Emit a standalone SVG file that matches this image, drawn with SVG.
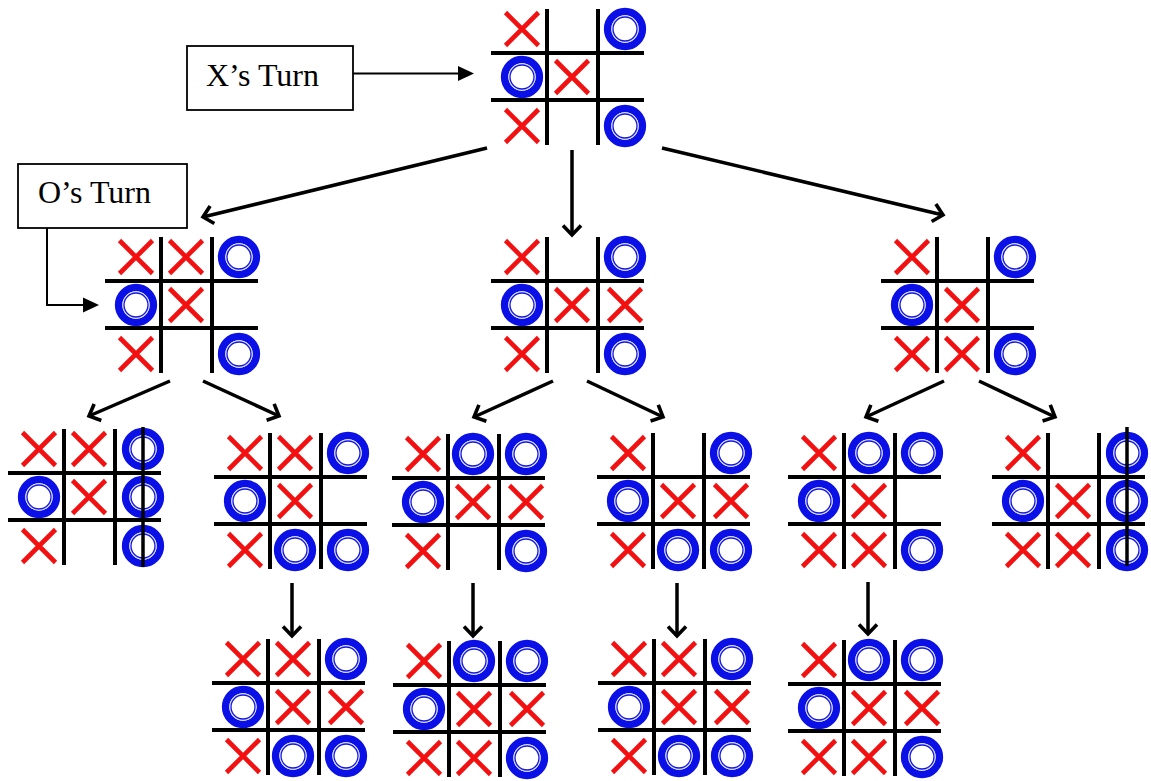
<svg xmlns="http://www.w3.org/2000/svg" xmlns:xlink="http://www.w3.org/1999/xlink" width="1151" height="781" viewBox="0 0 1151 781">
<style>
.gl{stroke:#000;stroke-width:4;fill:none}
.xm{stroke:#f21010;stroke-width:4.6;fill:none}
.ob{fill:#fff;stroke:#0a10e6;stroke-width:7.5}
.oi{fill:none;stroke:#d8dcff;stroke-width:1.1}
.ot{fill:none;stroke:#1418d8;stroke-width:1.3}
.win{stroke:#000;stroke-width:3.5}
.arr{stroke:#000;stroke-width:3.5;fill:none;marker-end:url(#chev)}
.thin{stroke:#000;stroke-width:2;fill:none;marker-end:url(#tri)}
.box{fill:#fff;stroke:#000;stroke-width:1.8}
.lbl{font-family:"Liberation Serif","Times New Roman",serif;font-size:32px;fill:#000}
</style>
<defs>
<marker id="chev" viewBox="-12 -10 14 20" refX="0" refY="0" markerWidth="14" markerHeight="20" markerUnits="userSpaceOnUse" orient="auto" overflow="visible">
<path d="M-9.5,-9 L0,0 L-9.5,9" fill="none" stroke="#000" stroke-width="3.6" stroke-linejoin="miter"/>
</marker>
<marker id="tri" viewBox="-16 -8 20 16" refX="-4" refY="0" markerWidth="20" markerHeight="16" markerUnits="userSpaceOnUse" orient="auto" overflow="visible">
<path d="M-16,-7.5 L0,0 L-16,7.5 Z" fill="#000"/>
</marker>
<g id="grid">
<line class="gl" x1="0" y1="-44" x2="0" y2="92"/>
<line class="gl" x1="51" y1="-44" x2="51" y2="92"/>
<line class="gl" x1="-56" y1="0" x2="97" y2="0"/>
<line class="gl" x1="-56" y1="47" x2="97" y2="47"/>
</g>
<g id="x"><path class="xm" d="M-16.5,-16.5 L16.5,16.5 M16.5,-16.5 L-16.5,16.5"/></g>
<g id="o"><circle class="ob" r="17.4"/><circle class="oi" r="13.1"/><circle class="ot" r="12"/></g>
</defs>

<g id="connectors">
<path class="thin" d="M353,73.5 H470"/>
<path class="thin" d="M47,228 V305 H95"/>
<line class="arr" x1="487" y1="148" x2="203" y2="217"/>
<line class="arr" x1="572" y1="150" x2="572" y2="235"/>
<line class="arr" x1="662" y1="148" x2="943" y2="215"/>
<line class="arr" x1="170" y1="381" x2="89" y2="416"/>
<line class="arr" x1="203" y1="381" x2="279" y2="416"/>
<line class="arr" x1="553" y1="381" x2="474" y2="417"/>
<line class="arr" x1="587" y1="381" x2="663" y2="417"/>
<line class="arr" x1="944" y1="381" x2="866" y2="417"/>
<line class="arr" x1="979" y1="381" x2="1055" y2="417"/>
<line class="arr" x1="292" y1="583" x2="292" y2="636"/>
<line class="arr" x1="473" y1="583" x2="473" y2="636"/>
<line class="arr" x1="677" y1="583" x2="677" y2="636"/>
<line class="arr" x1="868" y1="582" x2="868" y2="634"/>
</g>

<g id="label-x">
<rect class="box" x="187" y="46" width="166" height="64"/>
<text class="lbl" x="206" y="86">X’s Turn</text>
</g>
<g id="label-o">
<rect class="box" x="18" y="164" width="169" height="64"/>
<text class="lbl" x="38" y="203">O’s Turn</text>
</g>

<g id="board-root" transform="translate(547,53)">
<use href="#grid"/>
<use href="#x" x="-25" y="-24"/><use href="#o" x="78" y="-24"/>
<use href="#o" x="-25" y="24"/><use href="#x" x="25" y="24"/>
<use href="#x" x="-25" y="73"/><use href="#o" x="78" y="73"/>
</g>

<g id="board-L" transform="translate(161,281)">
<use href="#grid"/>
<use href="#x" x="-25" y="-24"/><use href="#x" x="25" y="-24"/><use href="#o" x="78" y="-24"/>
<use href="#o" x="-25" y="24"/><use href="#x" x="25" y="24"/>
<use href="#x" x="-25" y="73"/><use href="#o" x="78" y="73"/>
</g>

<g id="board-M" transform="translate(547,281)">
<use href="#grid"/>
<use href="#x" x="-25" y="-24"/><use href="#o" x="78" y="-24"/>
<use href="#o" x="-25" y="24"/><use href="#x" x="25" y="24"/><use href="#x" x="78" y="24"/>
<use href="#x" x="-25" y="73"/><use href="#o" x="78" y="73"/>
</g>

<g id="board-R" transform="translate(937,281)">
<use href="#grid"/>
<use href="#x" x="-25" y="-24"/><use href="#o" x="78" y="-24"/>
<use href="#o" x="-25" y="24"/><use href="#x" x="25" y="24"/>
<use href="#x" x="-25" y="73"/><use href="#x" x="25" y="73"/><use href="#o" x="78" y="73"/>
</g>

<g id="board-B1" transform="translate(64,473)">
<use href="#grid"/>
<use href="#x" x="-25" y="-24"/><use href="#x" x="25" y="-24"/><use href="#o" x="79" y="-24"/>
<use href="#o" x="-25" y="24"/><use href="#x" x="25" y="24"/><use href="#o" x="79" y="24"/>
<use href="#x" x="-25" y="73"/><use href="#o" x="79" y="73"/>
<line class="win" x1="79" y1="-46" x2="79" y2="94"/>
</g>

<g id="board-B2" transform="translate(270,477)">
<use href="#grid"/>
<use href="#x" x="-25" y="-24"/><use href="#x" x="25" y="-24"/><use href="#o" x="78" y="-24"/>
<use href="#o" x="-25" y="24"/><use href="#x" x="25" y="24"/>
<use href="#x" x="-25" y="73"/><use href="#o" x="25" y="73"/><use href="#o" x="78" y="73"/>
</g>

<g id="board-B3" transform="translate(448,478)">
<use href="#grid"/>
<use href="#x" x="-25" y="-24"/><use href="#o" x="25" y="-24"/><use href="#o" x="78" y="-24"/>
<use href="#o" x="-25" y="24"/><use href="#x" x="25" y="24"/><use href="#x" x="78" y="24"/>
<use href="#x" x="-25" y="73"/><use href="#o" x="78" y="73"/>
</g>

<g id="board-B4" transform="translate(653,477)">
<use href="#grid"/>
<use href="#x" x="-25" y="-24"/><use href="#o" x="78" y="-24"/>
<use href="#o" x="-25" y="24"/><use href="#x" x="25" y="24"/><use href="#x" x="78" y="24"/>
<use href="#x" x="-25" y="73"/><use href="#o" x="25" y="73"/><use href="#o" x="78" y="73"/>
</g>

<g id="board-B5" transform="translate(844,477)">
<use href="#grid"/>
<use href="#x" x="-25" y="-24"/><use href="#o" x="25" y="-24"/><use href="#o" x="78" y="-24"/>
<use href="#o" x="-25" y="24"/><use href="#x" x="25" y="24"/>
<use href="#x" x="-25" y="73"/><use href="#x" x="25" y="73"/><use href="#o" x="78" y="73"/>
</g>

<g id="board-B6" transform="translate(1048,477)">
<use href="#grid"/>
<use href="#x" x="-25" y="-24"/><use href="#o" x="79" y="-24"/>
<use href="#o" x="-25" y="24"/><use href="#x" x="25" y="24"/><use href="#o" x="79" y="24"/>
<use href="#x" x="-25" y="73"/><use href="#x" x="25" y="73"/><use href="#o" x="79" y="73"/>
<line class="win" x1="79" y1="-50" x2="79" y2="89"/>
</g>

<g id="board-D1" transform="translate(268,683)">
<use href="#grid"/>
<use href="#x" x="-25" y="-24"/><use href="#x" x="25" y="-24"/><use href="#o" x="78" y="-24"/>
<use href="#o" x="-25" y="24"/><use href="#x" x="25" y="24"/><use href="#x" x="78" y="24"/>
<use href="#x" x="-25" y="73"/><use href="#o" x="25" y="73"/><use href="#o" x="78" y="73"/>
</g>

<g id="board-D2" transform="translate(449,685)">
<use href="#grid"/>
<use href="#x" x="-25" y="-24"/><use href="#o" x="25" y="-24"/><use href="#o" x="78" y="-24"/>
<use href="#o" x="-25" y="24"/><use href="#x" x="25" y="24"/><use href="#x" x="78" y="24"/>
<use href="#x" x="-25" y="73"/><use href="#x" x="25" y="73"/><use href="#o" x="78" y="73"/>
</g>

<g id="board-D3" transform="translate(654,683)">
<use href="#grid"/>
<use href="#x" x="-25" y="-24"/><use href="#x" x="25" y="-24"/><use href="#o" x="78" y="-24"/>
<use href="#o" x="-25" y="24"/><use href="#x" x="25" y="24"/><use href="#x" x="78" y="24"/>
<use href="#x" x="-25" y="73"/><use href="#o" x="25" y="73"/><use href="#o" x="78" y="73"/>
</g>

<g id="board-D4" transform="translate(844,684)">
<use href="#grid"/>
<use href="#x" x="-25" y="-24"/><use href="#o" x="25" y="-24"/><use href="#o" x="78" y="-24"/>
<use href="#o" x="-25" y="24"/><use href="#x" x="25" y="24"/><use href="#x" x="78" y="24"/>
<use href="#x" x="-25" y="73"/><use href="#x" x="25" y="73"/><use href="#o" x="78" y="73"/>
</g>
</svg>
